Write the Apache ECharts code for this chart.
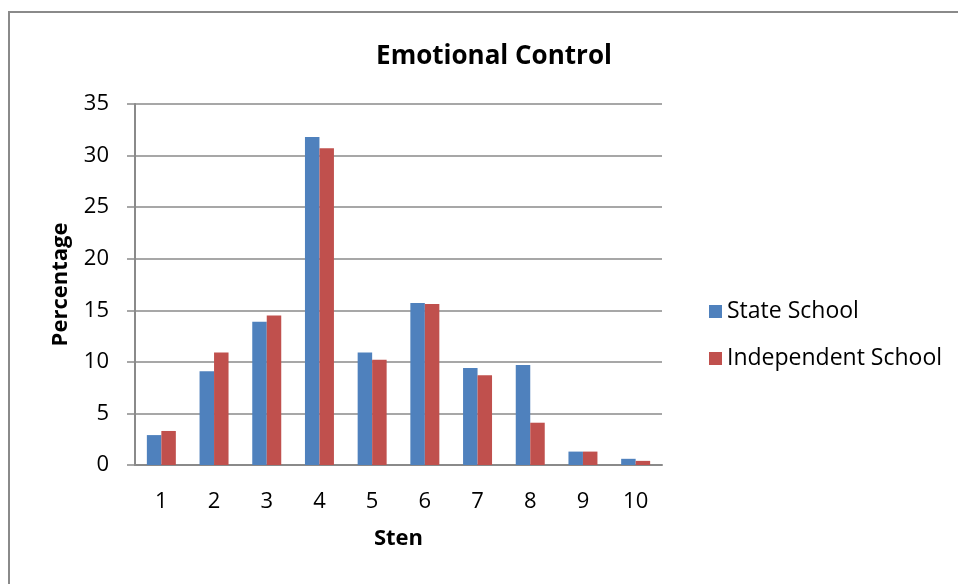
<!DOCTYPE html>
<html>
<head>
<meta charset="utf-8">
<script src="https://cdn.jsdelivr.net/npm/echarts@6/dist/echarts.min.js"></script>
<style>
html,body{margin:0;padding:0;background:#fff;}
#main{width:958px;height:584px;}
</style>
</head>
<body>
<div id="main"></div>
<script>
var categories = ['1','2','3','4','5','6','7','8','9','10'];
var stateSchool = [2.9, 9.1, 13.9, 31.8, 10.9, 15.7, 9.4, 9.7, 1.3, 0.6];
var independentSchool = [3.3, 10.9, 14.5, 30.7, 10.2, 15.6, 8.7, 4.1, 1.3, 0.4];

var font = '"Open Sans", sans-serif';
var myChart = echarts.init(document.getElementById('main'));
var option = {
    color: ['#4F81BD', '#C0504D'],
    animation: false,
    textStyle: { fontFamily: font },
    title: {
        text: 'Emotional Control',
        left: 489,
        top: 39,
        textAlign: 'center',
        textStyle: { fontSize: 26, fontWeight: 'bold', color: '#000', fontFamily: font }
    },
    graphic: [{
        type: 'rect',
        shape: { x: 9, y: 12, width: 1000, height: 1000 },
        style: { fill: 'none', stroke: '#8a8a8a', lineWidth: 2 }
    }],
    legend: {
        orient: 'vertical',
        left: 704,
        top: 295,
        icon: 'rect',
        itemWidth: 13,
        itemHeight: 13,
        itemGap: 24,
        textStyle: { fontSize: 23, color: '#000', fontFamily: font },
        data: ['State School', 'Independent School']
    },
    grid: { left: 135, right: 296, top: 104, bottom: 119, containLabel: false },
    xAxis: {
        type: 'category',
        data: categories,
        name: 'Sten',
        nameLocation: 'middle',
        nameGap: 63,
        nameTextStyle: { fontSize: 22, fontWeight: 'bold', color: '#000', fontFamily: font },
        axisLine: { lineStyle: { color: '#8a8a8a', width: 2 } },
        axisTick: { show: false },
        axisLabel: { fontSize: 22, color: '#000', margin: 26, fontFamily: font }
    },
    yAxis: {
        type: 'value',
        min: 0,
        max: 35,
        interval: 5,
        name: 'Percentage',
        nameLocation: 'middle',
        nameGap: 63,
        nameTextStyle: { fontSize: 22, fontWeight: 'bold', color: '#000', fontFamily: font },
        axisLine: { show: true, lineStyle: { color: '#8a8a8a', width: 2 } },
        axisTick: { show: true, length: 8, lineStyle: { color: '#8a8a8a', width: 1.5 } },
        axisLabel: { fontSize: 22, color: '#000', margin: 26, fontFamily: font },
        splitLine: { lineStyle: { color: '#8a8a8a', width: 1.5 } }
    },
    series: [
        {
            name: 'State School',
            type: 'bar',
            data: stateSchool,
            barGap: '0%',
            barCategoryGap: '45%'
        },
        {
            name: 'Independent School',
            type: 'bar',
            data: independentSchool,
            barGap: '0%',
            barCategoryGap: '45%'
        }
    ]
};
myChart.setOption(option);
</script>
</body>
</html>
